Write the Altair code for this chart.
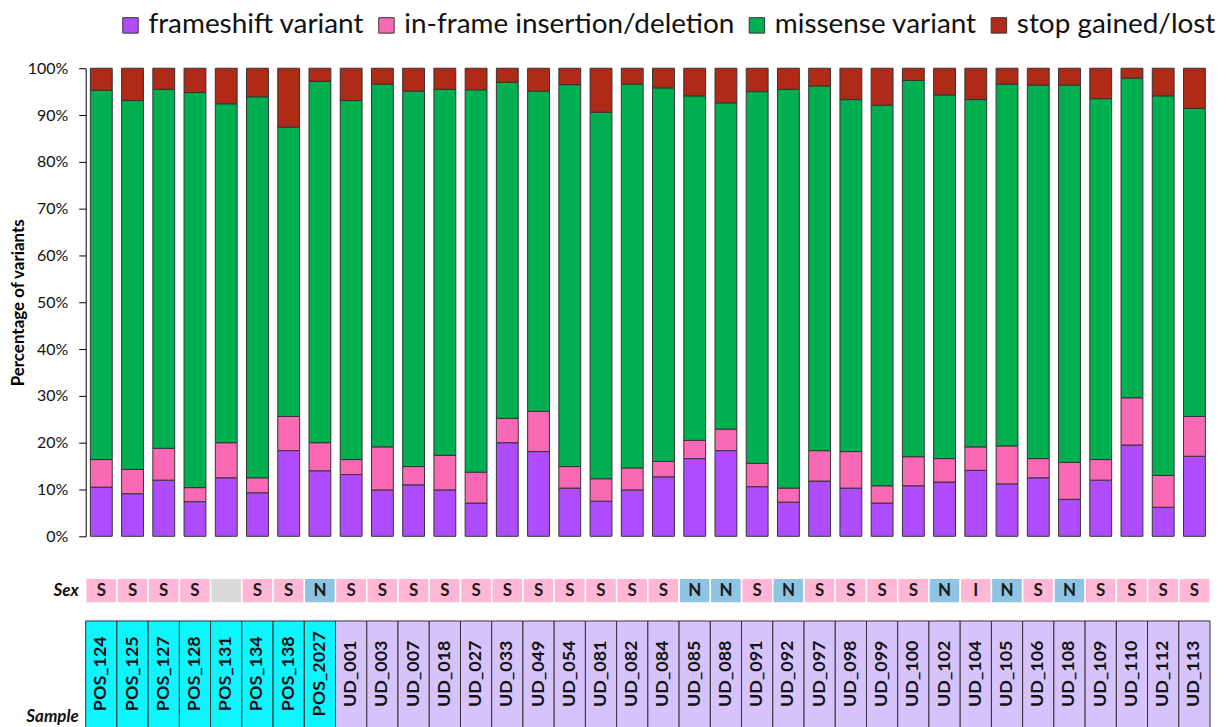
import altair as alt
import pandas as pd

samples = ["POS_124", "POS_125", "POS_127", "POS_128", "POS_131", "POS_134", "POS_138", "POS_2027",
           "UD_001", "UD_003", "UD_007", "UD_018", "UD_027", "UD_033", "UD_049", "UD_054", "UD_081",
           "UD_082", "UD_084", "UD_085", "UD_088", "UD_091", "UD_092", "UD_097", "UD_098", "UD_099",
           "UD_100", "UD_102", "UD_104", "UD_105", "UD_106", "UD_108", "UD_109", "UD_110", "UD_112", "UD_113"]

frameshift = [10.5, 9.1, 12.0, 7.4, 12.5, 9.3, 18.3, 14.0,
              13.2, 9.9, 11.0, 9.9, 7.1, 20.0, 18.1, 10.3, 7.5,
              9.9, 12.7, 16.6, 18.3, 10.6, 7.3, 11.8, 10.3, 7.1,
              10.8, 11.6, 14.1, 11.2, 12.5, 7.9, 12.0, 19.5, 6.2, 17.1]
inframe = [5.9, 5.2, 6.8, 3.0, 7.5, 3.2, 7.3, 6.0,
           3.2, 9.2, 3.9, 7.4, 6.6, 5.2, 8.6, 4.6, 4.8,
           4.7, 3.3, 3.9, 4.6, 5.0, 3.0, 6.5, 7.8, 3.7,
           6.2, 5.0, 5.0, 8.1, 4.1, 7.9, 4.4, 10.1, 6.8, 8.5]
missense = [78.9, 78.8, 76.7, 84.4, 72.4, 81.4, 61.8, 77.2,
            76.7, 77.5, 80.2, 78.2, 81.7, 71.8, 68.4, 81.6, 78.3,
            82.0, 79.8, 73.6, 69.7, 79.4, 85.2, 77.9, 75.2, 81.3,
            80.4, 77.7, 74.2, 77.3, 79.8, 80.6, 77.1, 68.3, 81.1, 65.8]
stop = [4.7, 6.9, 4.5, 5.2, 7.6, 6.1, 12.6, 2.8,
        6.9, 3.4, 4.9, 4.5, 4.6, 3.0, 4.9, 3.5, 9.4,
        3.4, 4.2, 5.9, 7.4, 5.0, 4.5, 3.8, 6.7, 7.9,
        2.6, 5.7, 6.7, 3.4, 3.6, 3.6, 6.5, 2.1, 5.9, 8.6]

sex = ["S", "S", "S", "S", "", "S", "S", "N",
       "S", "S", "S", "S", "S", "S", "S", "S", "S",
       "S", "S", "N", "N", "S", "N", "S", "S", "S",
       "S", "N", "I", "N", "S", "N", "S", "S", "S", "S"]

variant_types = ["frameshift variant", "in-frame insertion/deletion", "missense variant", "stop gained/lost"]
variant_colors = ["#B04CFF", "#FA69B4", "#00B050", "#B02A18"]
row_labels = ["Sex", "Sample"]

rows = []
for i, s in enumerate(samples):
    for k, (t, vals) in enumerate(zip(variant_types, [frameshift, inframe, missense, stop])):
        rows.append({"sample": s, "type": t, "order": k, "pct": vals[i]})
bars_df = pd.DataFrame(rows)

info_df = pd.DataFrame({
    "sample": samples,
    "sex": sex,
    "sex_key": [x if x else "blank" for x in sex],
    "group": ["POS" if s.startswith("POS") else "UD" for s in samples],
})

FONT = "Lato"
W, H = 1129, 470

x_bar = alt.X("sample:N", sort=samples, scale=alt.Scale(paddingInner=0.3, paddingOuter=0.15), axis=None)
x_cell = alt.X("sample:N", sort=samples, scale=alt.Scale(paddingInner=0, paddingOuter=0), axis=None)

bars = alt.Chart(bars_df).mark_bar(stroke="#333333", strokeWidth=1).encode(
    x=x_bar,
    y=alt.Y("pct:Q", stack="zero",
            scale=alt.Scale(domain=[0, 100], nice=False),
            axis=alt.Axis(values=list(range(0, 101, 10)), labelExpr="datum.value + '%'",
                          title="Percentage of variants", grid=False,
                          domainColor="black", tickColor="black", tickSize=7,
                          labelPadding=11, labelFont=FONT, labelFontSize=16, labelColor="#111111",
                          titleFont=FONT, titleFontSize=17, titleFontWeight="bold",
                          titleColor="black", titleX=-67, titleY=235, titleAngle=270,
                          titleAlign="center", titleBaseline="middle")),
    color=alt.Color("type:N", scale=alt.Scale(domain=variant_types, range=variant_colors),
                    legend=alt.Legend(orient="none", legendX=31, legendY=-57, direction="horizontal",
                                      title=None, symbolType="square", symbolSize=240,
                                      symbolStrokeColor="#333333", symbolStrokeWidth=1,
                                      labelFont=FONT, labelFontSize=28, labelColor="#111111",
                                      labelOffset=4, columnPadding=8, padding=0, labelLimit=0)),
    order=alt.Order("order:Q"),
)

sex_rect = alt.Chart(info_df).mark_rect(stroke="white", strokeWidth=1.5).encode(
    x=x_cell, y=alt.value(512), y2=alt.value(537),
    color=alt.Color("sex_key:N",
                    scale=alt.Scale(domain=["S", "I", "N", "blank"],
                                    range=["#FFB7D5", "#FFB7D5", "#8EC3E4", "#D9D9D9"]),
                    legend=None),
)
sex_text = alt.Chart(info_df).mark_text(font=FONT, fontWeight="bold", fontSize=17, color="#1a1a1a",
                                        baseline="middle").encode(
    x=x_cell, y=alt.value(525), text="sex:N")

sample_rect = alt.Chart(info_df).mark_rect(stroke="#333333", strokeWidth=1).encode(
    x=x_cell, y=alt.value(555), y2=alt.value(700),
    color=alt.Color("group:N", scale=alt.Scale(domain=["POS", "UD"], range=["#0DF6FF", "#D7C3FC"]),
                    legend=None),
)
sample_text = alt.Chart(info_df).mark_text(font=FONT, fontWeight="bold", fontSize=18, color="#111111",
                                           angle=270, align="center", baseline="middle").encode(
    x=x_cell, y=alt.value(608), text="sample:N")

sex_label = alt.Chart(pd.DataFrame({"label": [row_labels[0]]})).mark_text(
    font=FONT, fontWeight="bold", fontStyle="italic", fontSize=17, align="right", baseline="middle",
    color="#111111").encode(x=alt.value(-7), y=alt.value(525), text="label:N")
sample_label = alt.Chart(pd.DataFrame({"label": [row_labels[1]]})).mark_text(
    font=FONT, fontWeight="bold", fontStyle="italic", fontSize=17, align="right", baseline="middle",
    color="#111111").encode(x=alt.value(-7), y=alt.value(651), text="label:N")

chart = alt.layer(bars, sex_rect, sex_text, sample_rect, sample_text, sex_label, sample_label).resolve_scale(
    x="independent", color="independent"
).properties(
    width=W, height=H,
    autosize=alt.AutoSizeParams(type="none"),
    padding={"left": 78, "top": 59, "right": 10, "bottom": 190},
).configure_view(stroke=None)

chart.save("out.html", embed_options={"renderer": "svg", "actions": False})
